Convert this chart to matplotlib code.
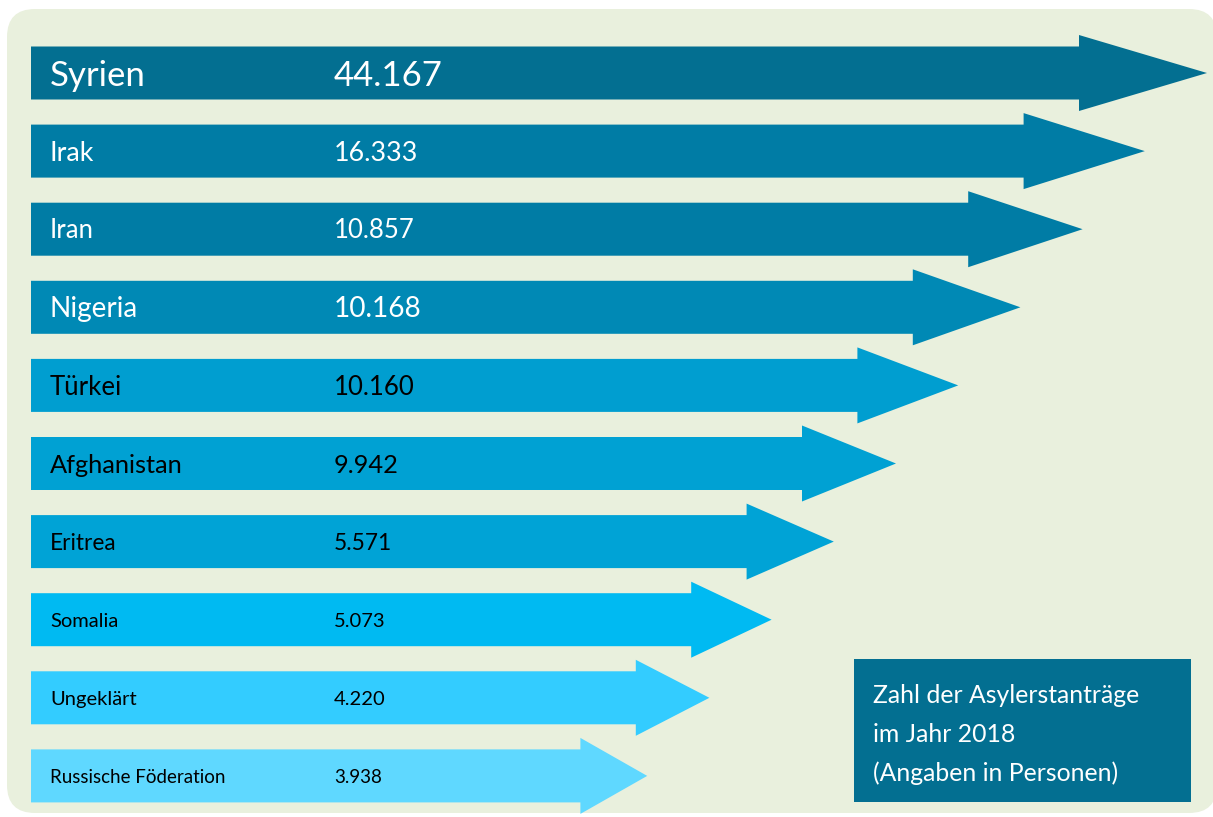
import numpy as np
import matplotlib.pyplot as plt
from matplotlib.patches import Polygon, FancyBboxPatch, Rectangle

# Asylerstanträge 2018, sortiert nach Herkunftsland
countries = ["Syrien", "Irak", "Iran", "Nigeria", "Türkei", "Afghanistan",
             "Eritrea", "Somalia", "Ungeklärt", "Russische Föderation"]
applications = [44167, 16333, 10857, 10168, 10160, 9942, 5571, 5073, 4220, 3938]
legend_lines = ["Zahl der Asylerstanträge", "im Jahr 2018", "(Angaben in Personen)"]

# styles per row
arrow_colors = ["#036f91", "#007ca5", "#007ca5", "#0089b5", "#009ed0",
                "#00a1d3", "#00a3d6", "#00baf2", "#33ccff", "#5fd8ff"]
text_colors = ["white"] * 4 + ["black"] * 6
font_sizes = [25, 19.3, 18.5, 20.2, 18.5, 18.3, 16.3, 14.5, 14.5, 13.5]

BG = "#e9f0dd"
FONT = "Lato"
W, H = 1213, 817


def german(n):
    return f"{n:,}".replace(",", ".")


def arrow(ax, y, tip, head_len, color, x0=31, shaft=53, head=76):
    base = tip - head_len
    pts = [(x0, y - shaft / 2), (base, y - shaft / 2), (base, y - head / 2),
           (tip, y), (base, y + head / 2), (base, y + shaft / 2), (x0, y + shaft / 2)]
    ax.add_patch(Polygon(pts, closed=True, facecolor=color, edgecolor="none"))


fig = plt.figure(figsize=(W / 100, H / 100), dpi=100)
ax = fig.add_axes([0, 0, 1, 1])
ax.set_xlim(0, W)
ax.set_ylim(H, 0)
ax.axis("off")

# light green panel
ax.add_patch(FancyBboxPatch((7 + 28, 9 + 28), W - 7 - 56 + 4, 804 - 56,
                            boxstyle="round,pad=28", facecolor=BG, edgecolor="none"))

# arrows: length by rank, not to scale
for i, (name, val) in enumerate(zip(countries, applications)):
    yc = 73 + i * 78.1
    tip = 1207 - 62.2 * i
    head_len = 128 - 6.8 * i
    arrow(ax, yc, tip, head_len, arrow_colors[i])
    fs = font_sizes[i]
    cap = fs * 100 / 72 * 0.72
    ax.text(50, yc + cap / 2, name, fontsize=fs, color=text_colors[i],
            family=FONT, va="baseline", ha="left")
    ax.text(334, yc + cap / 2, german(val), fontsize=fs, color=text_colors[i],
            family=FONT, va="baseline", ha="left")

# legend box
ax.add_patch(Rectangle((854, 659), 337, 143, facecolor="#036f91", edgecolor="none"))
for j, line in enumerate(legend_lines):
    ax.text(873, 703 + j * 39, line, fontsize=17.8, color="white",
            family=FONT, va="baseline", ha="left")

fig.savefig("out.png", dpi=100, facecolor="white")
